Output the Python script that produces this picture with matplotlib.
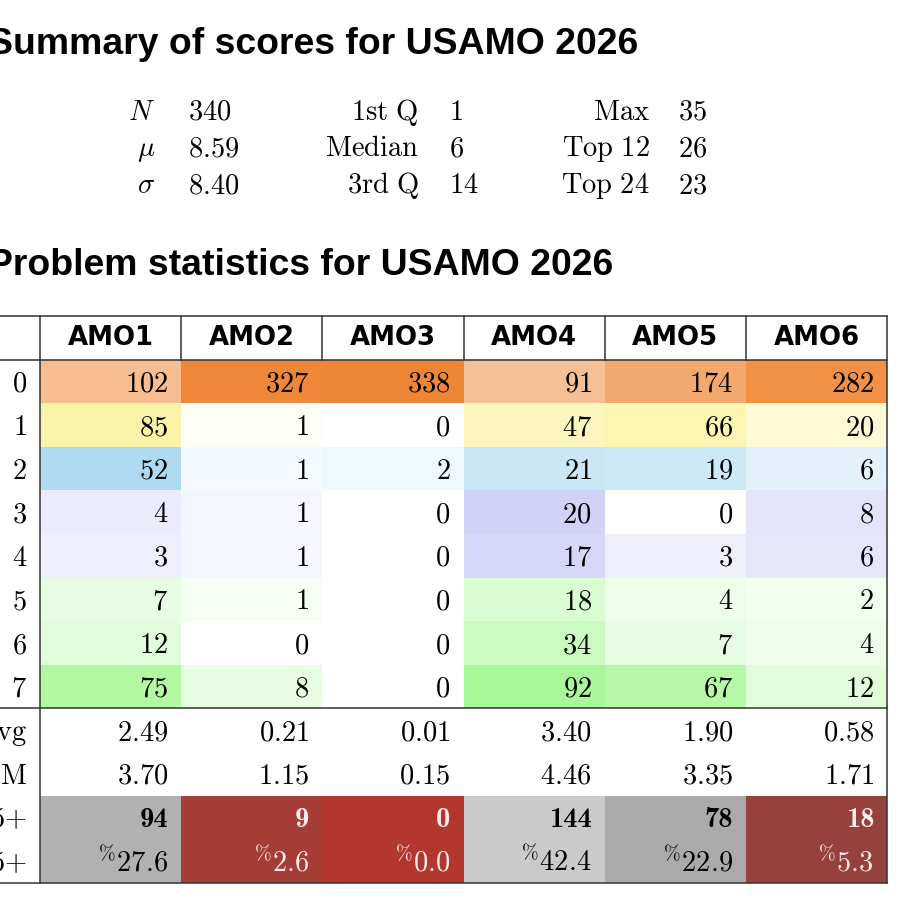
import matplotlib
matplotlib.use("Agg")
import matplotlib.pyplot as plt
from matplotlib.patches import Rectangle
import numpy as np

plt.rcParams['mathtext.fontset'] = 'cm'

# ---------------- data ----------------
exam = "USAMO 2026"
summary_labels = [[r'$N$', r'$\mu$', r'$\sigma$'],
                  [r'$\mathrm{1st\ Q}$', r'$\mathrm{Median}$', r'$\mathrm{3rd\ Q}$'],
                  [r'$\mathrm{Max}$', r'$\mathrm{Top\ 12}$', r'$\mathrm{Top\ 24}$']]
summary_values = [["340", "8.59", "8.40"],
                  ["1", "6", "14"],
                  ["35", "26", "23"]]

problems = ["AMO1", "AMO2", "AMO3", "AMO4", "AMO5", "AMO6"]
scores = [0, 1, 2, 3, 4, 5, 6, 7]
counts = [
    [102, 327, 338, 91, 174, 282],
    [85, 1, 0, 47, 66, 20],
    [52, 1, 2, 21, 19, 6],
    [4, 1, 0, 20, 0, 8],
    [3, 1, 0, 17, 3, 6],
    [7, 1, 0, 18, 4, 2],
    [12, 0, 0, 34, 7, 4],
    [75, 8, 0, 92, 67, 12],
]
avg = [2.49, 0.21, 0.01, 3.40, 1.90, 0.58]
qm = [3.70, 1.15, 0.15, 4.46, 3.35, 1.71]
n5 = [94, 9, 0, 144, 78, 18]
p5 = [27.6, 2.6, 0.0, 42.4, 22.9, 5.3]
N = 340

# ---------------- style ----------------
base_colors = {0: (238, 134, 52), 1: (247, 232, 80), 2: (45, 160, 220),
               3: (70, 70, 220), 4: (70, 70, 220),
               5: (90, 240, 60), 6: (90, 240, 60), 7: (90, 240, 60)}

def count_color(score, c):
    a = np.sqrt(c / N)
    b = np.array(base_colors[score]) / 255.0
    return tuple(1 - a * (1 - b))

def pct_color(p):
    if p < 10:
        r0 = np.array([180, 55, 45]); r1 = np.array([150, 65, 62])
        t = p / 5.3
        return tuple((r0 + t * (r1 - r0)) / 255.0), '#FDEDED'
    g = min(235, 132 + 1.64 * p) / 255.0
    return (g, g, g), 'black'

W = H = 911
fig = plt.figure(figsize=(W / 100, H / 100), dpi=100)
ax = fig.add_axes([0, 0, 1, 1])
ax.set_xlim(0, W)
ax.set_ylim(H, 0)
ax.axis('off')

title_font = dict(family=['Liberation Sans', 'DejaVu Sans'], weight='bold', size=26.9)
ax.text(-12, 54, "Summary of scores for " + exam, ha='left', va='baseline', **title_font)
ax.text(-12, 275, "Problem statistics for " + exam, ha='left', va='baseline', **title_font)

# summary block
lab_right = [155, 419, 650]
val_left = [188, 449, 678]
base_y = [120, 156.5, 193]
fs = 20.5
for ci in range(3):
    for ri in range(3):
        ax.text(lab_right[ci], base_y[ri], summary_labels[ci][ri], ha='right', va='baseline', fontsize=fs)
        ax.text(val_left[ci], base_y[ri], r'$\mathrm{%s}$' % summary_values[ci][ri], ha='left', va='baseline', fontsize=fs)

# table geometry
top = 316.0
rh = 43.6
x0 = 40.0
cw = 141.2
ncol = len(problems)
xr = x0 + cw * ncol
pad = 13
lc = '#333333'
lw = 1.1

def row_top(i):
    return top + i * rh

# header
for j, p in enumerate(problems):
    ax.text(x0 + cw * (j + 0.5), row_top(0) + rh / 2, p, ha='center', va='center',
            family='DejaVu Sans', weight='bold', fontsize=18.7)

# count rows
for i, s in enumerate(scores):
    y = row_top(1 + i)
    ax.text(x0 - pad, y + rh / 2 + 10, r'$%d$' % s, ha='right', va='baseline', fontsize=fs)
    for j in range(ncol):
        c = counts[i][j]
        ax.add_patch(Rectangle((x0 + cw * j, y), cw, rh, facecolor=count_color(s, c), edgecolor='none', zorder=0))
        ax.text(x0 + cw * (j + 1) - pad, y + rh / 2 + 10, r'$%d$' % c, ha='right', va='baseline', fontsize=fs)

# avg / qm
for k, (lab, vals) in enumerate([(r'$\mathrm{Avg}$', avg), (r'$\mathrm{QM}$', qm)]):
    y = row_top(9 + k)
    ax.text(x0 - pad, y + rh / 2 + 10, lab, ha='right', va='baseline', fontsize=fs)
    for j in range(ncol):
        ax.text(x0 + cw * (j + 1) - pad, y + rh / 2 + 10, r'$%.2f$' % vals[j], ha='right', va='baseline', fontsize=fs)

# #5+ and %5+
y5 = row_top(11)
yp = row_top(12)
ax.text(x0 - pad, y5 + rh / 2 + 10, r'$\#\mathrm{5}{+}$', ha='right', va='baseline', fontsize=fs)
ax.text(x0 - pad, yp + rh / 2 + 10, r'$\%\mathrm{5}{+}$', ha='right', va='baseline', fontsize=fs)
for j in range(ncol):
    fc, tc = pct_color(p5[j])
    ax.add_patch(Rectangle((x0 + cw * j, y5), cw, 2 * rh, facecolor=fc, edgecolor='none', zorder=0))
    ax.text(x0 + cw * (j + 1) - pad, y5 + rh / 2 + 10, '%d' % n5[j], ha='right', va='baseline',
            family='cmb10', fontsize=fs, color=tc)
    ax.text(x0 + cw * (j + 1) - pad, yp + rh / 2 + 10, r'$^{\%%}%.1f$' % p5[j], ha='right', va='baseline',
            fontsize=fs, color=tc)

# rules
nrows = 13
for i in [0, 1, 9, 13]:
    ax.plot([0, xr], [row_top(i), row_top(i)], color=lc, lw=lw, zorder=3)
ax.plot([x0, x0], [row_top(0), row_top(nrows)], color=lc, lw=lw, zorder=3)
ax.plot([xr, xr], [row_top(0), row_top(nrows)], color=lc, lw=lw, zorder=3)
for j in range(1, ncol):
    ax.plot([x0 + cw * j] * 2, [row_top(0), row_top(1)], color=lc, lw=lw, zorder=3)

fig.savefig("out.png", dpi=100)
